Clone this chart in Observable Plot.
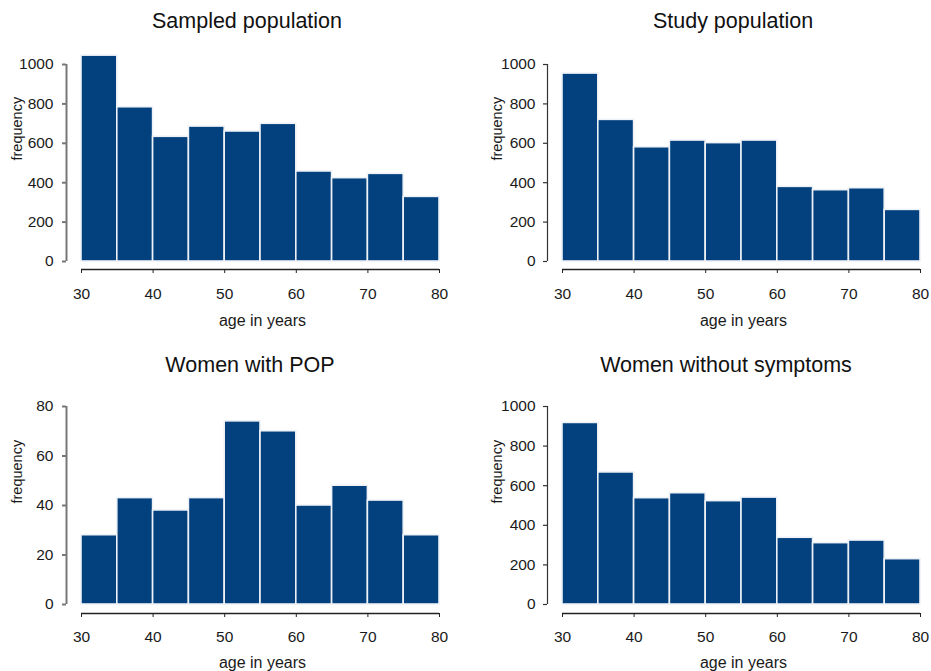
<!DOCTYPE html>
<html><head><meta charset="utf-8">
<script src="https://cdn.jsdelivr.net/npm/d3@7"></script>
<script src="https://cdn.jsdelivr.net/npm/@observablehq/plot@0.6"></script>
<style>
body{margin:0;background:#fff;}
#page{position:relative;width:931px;height:671px;overflow:hidden;font-family:"Liberation Sans",Arial,sans-serif;}
.title{position:absolute;width:400px;text-align:center;font-size:21.5px;line-height:21px;color:#111;white-space:nowrap;}
.panel{position:absolute;}
.panel svg{overflow:visible;}
</style></head><body><div id="page"></div>
<script>
// ---- data ----
const ageBreaks = [30, 35, 40, 45, 50, 55, 60, 65, 70, 75, 80];
const sampledPopulation = [1045, 783, 633, 685, 660, 699, 457, 423, 445, 328];
const studyPopulation = [954, 719, 580, 614, 601, 614, 379, 362, 372, 262];
const womenWithPOP = [28, 43, 38, 43, 74, 70, 40, 48, 42, 28];
const womenWithoutSymptoms = [917, 667, 537, 562, 522, 540, 337, 310, 323, 229];
const panelTitles = ["Sampled population", "Study population", "Women with POP", "Women without symptoms"];
const xTicks = [30, 40, 50, 60, 70, 80];
const yTicks1000 = [0, 200, 400, 600, 800, 1000];
const yTicks80 = [0, 20, 40, 60, 80];
const xLabel = "age in years";
const yLabel = "frequency";

const page = document.getElementById("page");
const barFill = "#02407e";

const cols = [
  {left: 0, width: 465, marginLeft: 66, marginRight: 26, xRange: [81, 439], labelDx: -49, padY: 9, axisStroke: "#777", axisWidth: 2},
  {left: 465, width: 466, marginLeft: 82, marginRight: 11, xRange: [97, 455], labelDx: -50, padY: 8, axisStroke: "#333", axisWidth: 1.2}
];
const rows = [
  {top: 40, yRange: [221, 24], marginBottom: 60, padX: 14, ageDy: 56.5, titleBaseline: 28.3},
  {top: 382, yRange: [222, 24], marginBottom: 58, padX: 13, ageDy: 54.2, titleBaseline: 372.3}
];
const titleCenters = [[247, 733], [250, 726]];
const tickFont = 15.5;

function drawPanel(values, yTicks, r, c, title) {
  const col = cols[c], row = rows[r];
  const bins = values.map((v, i) => ({x1: ageBreaks[i], x2: ageBreaks[i + 1], count: v}));
  const yMax = yTicks[yTicks.length - 1];
  const xMid = (ageBreaks[0] + ageBreaks[ageBreaks.length - 1]) / 2;
  const height = 289;
  const frameBottom = height - row.marginBottom;
  const zeroOffset = frameBottom - row.yRange[0];
  const frameMid = (24 + frameBottom) / 2;
  const chart = Plot.plot({
    width: col.width,
    height,
    marginLeft: col.marginLeft,
    marginRight: col.marginRight,
    marginTop: 24,
    marginBottom: row.marginBottom,
    style: {fontFamily: '"Liberation Sans", Arial, sans-serif', fontSize: tickFont + "px", color: "#1a1a1a", background: "transparent", overflow: "visible"},
    x: {domain: [ageBreaks[0], ageBreaks[ageBreaks.length - 1]], range: col.xRange},
    y: {domain: [0, yMax], range: row.yRange},
    marks: [
      Plot.rectY(bins, {x1: "x1", x2: "x2", y: "count", fill: barFill, stroke: "#eef2f7", strokeWidth: 1.6}),
      Plot.axisY({ticks: yTicks, tickFormat: d => String(d), tickSize: 4, tickPadding: col.padY, label: null, stroke: col.axisStroke, strokeWidth: col.axisWidth, fontSize: tickFont}),
      Plot.ruleX([ageBreaks[0]], {y1: 0, y2: yMax, dx: col.marginLeft - col.xRange[0], stroke: col.axisStroke, strokeWidth: col.axisWidth}),
      Plot.axisX({ticks: xTicks, tickFormat: d => String(d), tickSize: 4, tickPadding: row.padX, label: null, stroke: "#222", fontSize: tickFont}),
      Plot.ruleY([0], {x1: ageBreaks[0], x2: ageBreaks[ageBreaks.length - 1], dy: zeroOffset, stroke: "#222", strokeWidth: 1.4}),
      Plot.text([yLabel], {frameAnchor: "left", text: d => d, dx: col.labelDx, dy: 120 - frameMid + (r === 1 ? 1 : 0), rotate: -90, fontSize: 14.5, fill: "#1a1a1a"}),
      Plot.text([xLabel], {x: () => xMid, frameAnchor: "bottom", text: d => d, dx: 2, dy: row.ageDy, fontSize: 16, fill: "#1a1a1a"})
    ]
  });
  const wrap = document.createElement("div");
  wrap.className = "panel";
  wrap.style.left = col.left + "px";
  wrap.style.top = row.top + "px";
  wrap.appendChild(chart);
  page.appendChild(wrap);

  const t = document.createElement("div");
  t.className = "title";
  t.textContent = title;
  t.style.left = (titleCenters[r][c] - 200) + "px";
  t.style.top = (row.titleBaseline - 17.8) + "px";
  page.appendChild(t);
}

drawPanel(sampledPopulation, yTicks1000, 0, 0, panelTitles[0]);
drawPanel(studyPopulation, yTicks1000, 0, 1, panelTitles[1]);
drawPanel(womenWithPOP, yTicks80, 1, 0, panelTitles[2]);
drawPanel(womenWithoutSymptoms, yTicks1000, 1, 1, panelTitles[3]);
</script>
</body></html>
